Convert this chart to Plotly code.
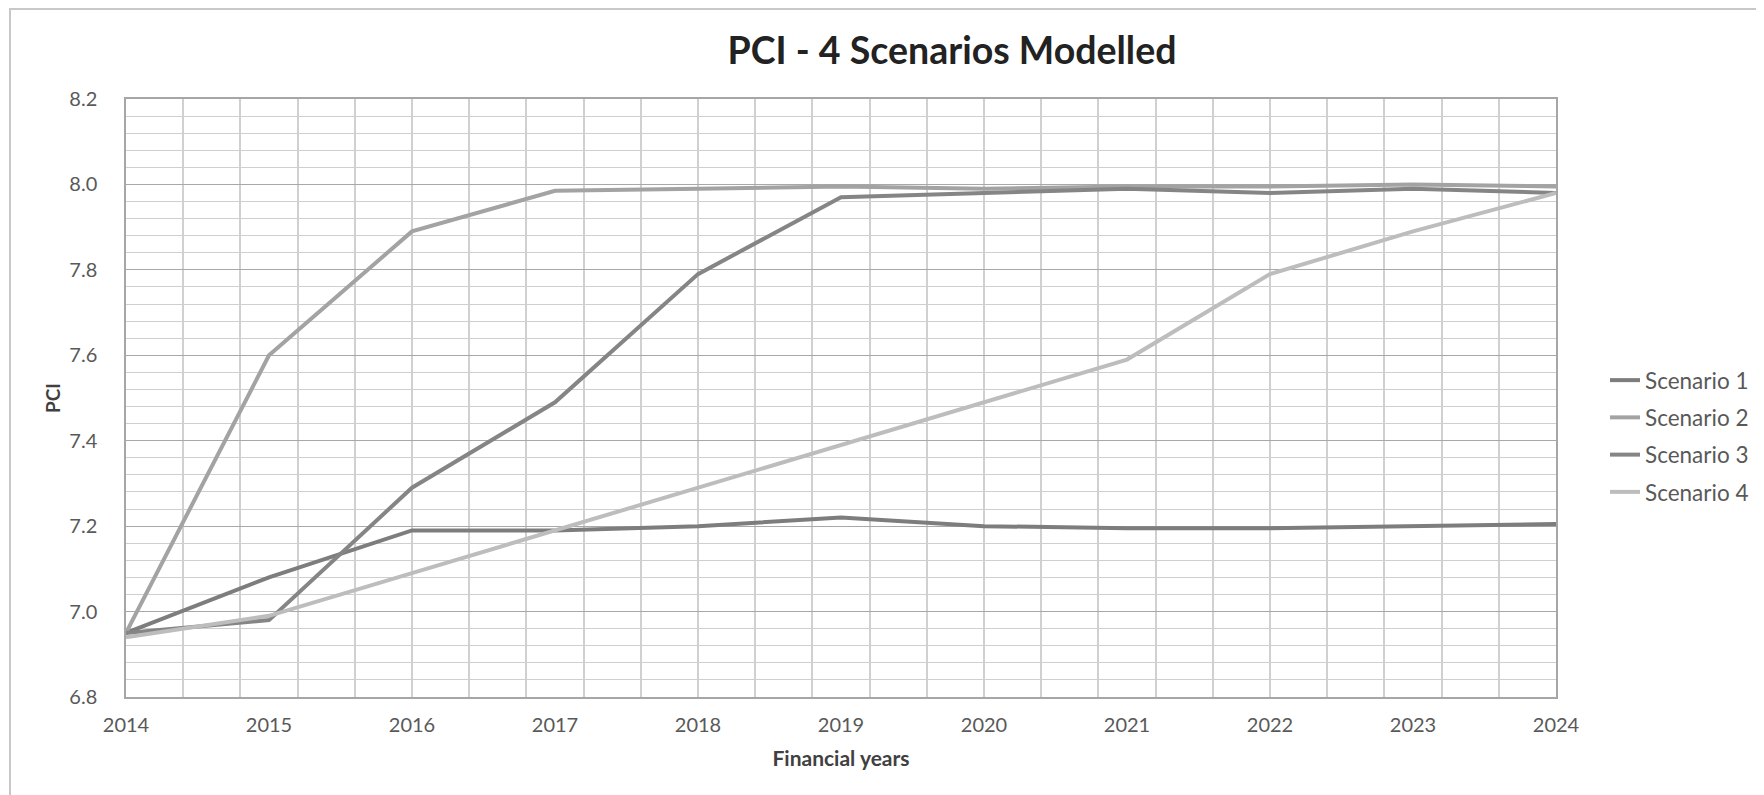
import plotly.graph_objects as go

years = [2014, 2015, 2016, 2017, 2018, 2019, 2020, 2021, 2022, 2023, 2024]
scenario_1 = [6.95, 7.08, 7.19, 7.19, 7.20, 7.22, 7.20, 7.195, 7.195, 7.20, 7.205]
scenario_2 = [6.95, 7.60, 7.89, 7.985, 7.99, 7.995, 7.99, 7.995, 7.995, 8.00, 7.995]
scenario_3 = [6.95, 6.98, 7.29, 7.49, 7.79, 7.97, 7.98, 7.99, 7.98, 7.99, 7.98]
scenario_4 = [6.94, 6.99, 7.09, 7.19, 7.29, 7.39, 7.49, 7.59, 7.79, 7.89, 7.98]

names = ["Scenario 1", "Scenario 2", "Scenario 3", "Scenario 4"]
colours = ["#7d7d7d", "#a3a3a3", "#858585", "#bdbdbd"]

# the page body adds an 8px margin, so positions below are page - 8
W, H = 1764, 795
L, R, T, B = 118, 216, 91, 106
pw, ph = W - L - R, H - T - B

font = "Lato, 'Open Sans', sans-serif"
text_col = "#595959"

fig = go.Figure()
for i, (ys, name, colour) in enumerate(
    zip([scenario_1, scenario_2, scenario_3, scenario_4], names, colours)
):
    fig.add_trace(
        go.Scatter(
            x=years,
            y=ys,
            mode="lines",
            name=name,
            legendgroup=str(i),
            line=dict(color=colour, width=4),
        )
    )

# outer chart border
fig.add_shape(
    type="rect",
    xref="paper",
    yref="paper",
    x0=(2 - L) / pw,
    x1=(1752 - L) / pw,
    y0=-0.3,
    y1=(H - B - 1) / ph,
    line=dict(color="#c8c8c8", width=2),
    layer="below",
)

fig.update_layout(
    width=W,
    height=H,
    margin=dict(l=L, r=R, t=T, b=B),
    paper_bgcolor="white",
    plot_bgcolor="white",
    font=dict(family=font, size=20, color=text_col),
    title=dict(
        text="<b>PCI - 4 Scenarios Modelled</b>",
        x=(944 - L) / pw,
        xref="paper",
        xanchor="center",
        y=1 - 43 / H,
        yanchor="middle",
        font=dict(size=37.5, color="#222222", family=font),
    ),
    xaxis=dict(
        range=[2014, 2024],
        tickvals=years,
        showgrid=False,
        showline=True,
        linecolor="#a6a6a6",
        linewidth=1.5,
        mirror=True,
        ticks="",
        ticklabelstandoff=9,
        tickfont=dict(size=20, color=text_col),
        title=dict(
            text="<b>Financial years</b>",
            font=dict(size=21, color="#404040"),
            standoff=17,
        ),
        minor=dict(
            tick0=2014,
            dtick=0.4,
            showgrid=True,
            gridcolor="#d0d0d0",
            gridwidth=1.6,
        ),
        zeroline=False,
    ),
    yaxis=dict(
        range=[6.8, 8.2],
        dtick=0.2,
        tick0=6.8,
        tickformat=".1f",
        showgrid=True,
        gridcolor="#a8a8a8",
        gridwidth=1.2,
        showline=True,
        linecolor="#a6a6a6",
        linewidth=1.5,
        mirror=True,
        ticks="",
        ticklabelstandoff=23,
        tickfont=dict(size=20, color=text_col),
        title=dict(
            text="<b>PCI</b>",
            font=dict(size=19, color="#404040"),
            standoff=4,
        ),
        minor=dict(
            dtick=0.04,
            showgrid=True,
            gridcolor="#cfcfcf",
            gridwidth=1,
        ),
        zeroline=False,
    ),
    legend=dict(
        x=(1597 - L) / pw,
        xanchor="left",
        y=(H - B - 351) / ph,
        yanchor="top",
        tracegroupgap=5,
        font=dict(size=22.5, color=text_col),
        bgcolor="rgba(0,0,0,0)",
    ),
    showlegend=True,
)

fig.write_html("out.html")
